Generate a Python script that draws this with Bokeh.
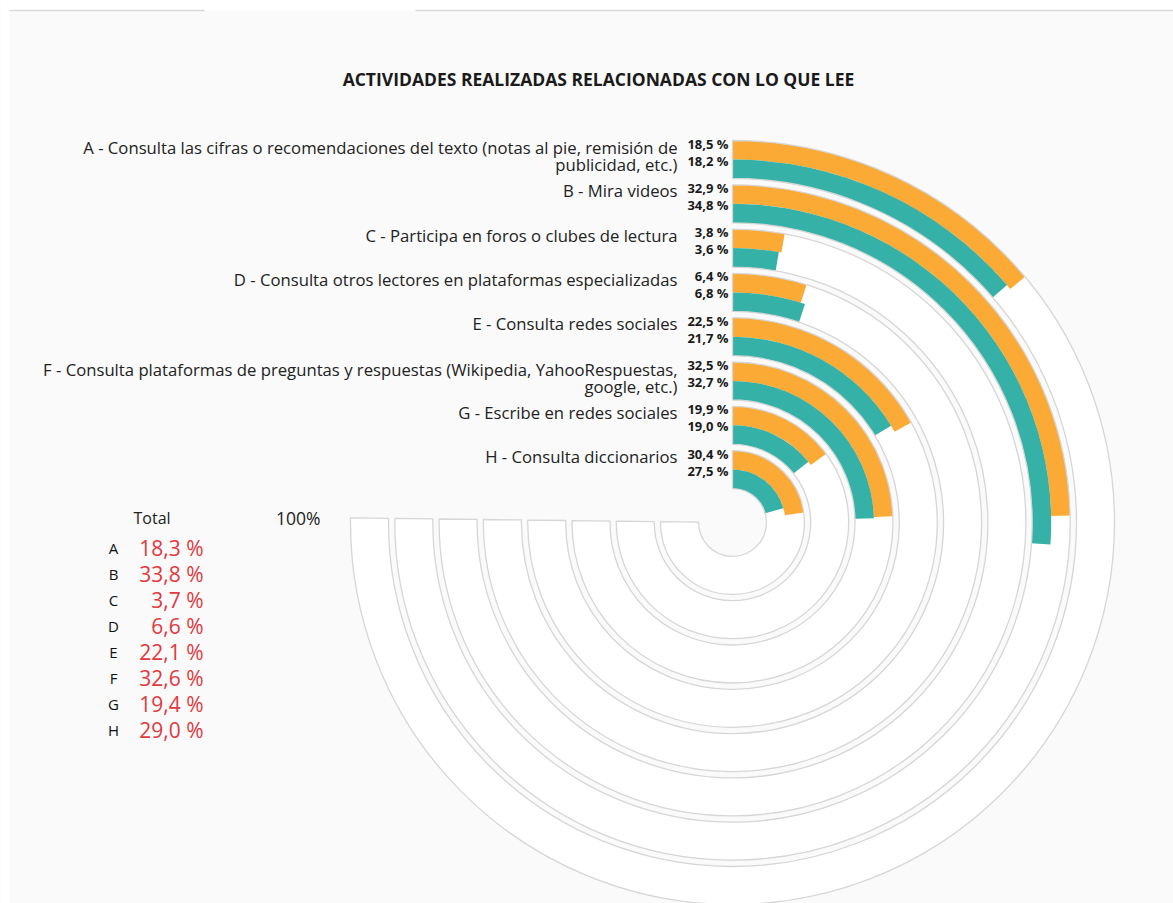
import numpy as np
from bokeh.plotting import figure
from bokeh.models import Range1d
from bokeh.core.properties import value
from bokeh.embed import file_html
from bokeh.resources import INLINE

W, H = 1173, 903

# ---------------- data ----------------
letras = ["A", "B", "C", "D", "E", "F", "G", "H"]
etiquetas = [
    ["A - Consulta las cifras o recomendaciones del texto (notas al pie, remisión de", "publicidad, etc.)"],
    ["B - Mira videos"],
    ["C - Participa en foros o clubes de lectura"],
    ["D - Consulta otros lectores en plataformas especializadas"],
    ["E - Consulta redes sociales"],
    ["F - Consulta plataformas de preguntas y respuestas (Wikipedia, YahooRespuestas,", "google, etc.)"],
    ["G - Escribe en redes sociales"],
    ["H - Consulta diccionarios"],
]
serie_naranja = [18.5, 32.9, 3.8, 6.4, 22.5, 32.5, 19.9, 30.4]
serie_verde = [18.2, 34.8, 3.6, 6.8, 21.7, 32.7, 19.0, 27.5]
total = [18.3, 33.8, 3.7, 6.6, 22.1, 32.6, 19.4, 29.0]
titulo = "ACTIVIDADES REALIZADAS RELACIONADAS CON LO QUE LEE"

NARANJA = "#FBAA36"
VERDE = "#35B1A7"
FONT = value("Open Sans")


def Y(img_y):
    return H - img_y


def fmt(v):
    return f"{v:.1f}".replace(".", ",") + " %"


p = figure(width=W, height=H, output_backend="svg", toolbar_location=None,
           x_range=Range1d(0, W), y_range=Range1d(0, H),
           background_fill_color="#fafafa", border_fill_color="#fafafa",
           min_border=0, outline_line_color=None)
p.axis.visible = False
p.grid.visible = False

# top strip
p.quad(left=0, right=W, bottom=Y(10), top=H, fill_color="white", line_color=None)
p.quad(left=0, right=9, bottom=0, top=H, fill_color="white", line_color=None)
p.segment(x0=[9, 415], y0=[Y(10), Y(10)], x1=[204, W], y1=[Y(10), Y(10)],
          line_color="#d9d9d9", line_width=1.5)

# radial geometry
cx, cy = 732, Y(522)
R0, step, tw = 382.0, 44.3, 38.0
n = len(letras)
outer = np.array([R0 - step * i for i in range(n)])
mid = outer - tw / 2
inner = outer - tw
start = np.pi / 2
track_end = np.pi / 2 - 1.5 * np.pi - 0.012

# track fills
p.annular_wedge(x=[cx] * n, y=[cy] * n, inner_radius=inner, outer_radius=outer,
                start_angle=start, end_angle=track_end, direction="clock",
                fill_color="white", line_color=None)

# bars
end_o = [start - v / 100 * 1.5 * np.pi for v in serie_naranja]
end_v = [start - v / 100 * 1.5 * np.pi for v in serie_verde]
p.annular_wedge(x=[cx] * n, y=[cy] * n, inner_radius=mid, outer_radius=outer,
                start_angle=start, end_angle=end_o, direction="clock",
                fill_color=NARANJA, line_color=None)
p.annular_wedge(x=[cx] * n, y=[cy] * n, inner_radius=inner, outer_radius=mid,
                start_angle=start, end_angle=end_v, direction="clock",
                fill_color=VERDE, line_color=None)

# track outlines
p.annular_wedge(x=[cx] * n, y=[cy] * n, inner_radius=inner, outer_radius=outer,
                start_angle=start, end_angle=track_end, direction="clock",
                fill_color=None, line_color="#d6d6d6", line_width=1.3)

# title
p.text(x=[598], y=[Y(78)], text=[titulo], text_font=FONT, text_font_size="17.5px",
       text_font_style="bold", text_align="center", text_baseline="middle",
       text_color="#1a1a1a")

# category labels
lx, ly, lt = [], [], []
for i, lines in enumerate(etiquetas):
    top = cy + outer[i]
    if len(lines) == 1:
        lx.append(677); ly.append(top - 6); lt.append(lines[0])
    else:
        lx += [677, 677]; ly += [top - 7, top - 24]; lt += lines
p.text(x=lx, y=ly, text=lt, text_font=FONT, text_font_size="16.7px",
       text_align="right", text_baseline="middle", text_color="#222222")

# value labels
vx, vy, vt = [], [], []
for i in range(n):
    top = cy + outer[i]
    vx += [728, 728]
    vy += [top - 3, top - 20]
    vt += [fmt(serie_naranja[i]), fmt(serie_verde[i])]
p.text(x=vx, y=vy, text=vt, text_font=FONT, text_font_size="13px",
       text_font_style="bold", text_align="right", text_baseline="middle",
       text_color="#1a1a1a")

# left table
p.text(x=[133], y=[Y(517)], text=["Total"], text_font=FONT, text_font_size="16px",
       text_align="left", text_baseline="middle", text_color="#222222")
p.text(x=[320], y=[Y(517)], text=["100%"], text_font=FONT, text_font_size="17.5px",
       text_align="right", text_baseline="middle", text_color="#222222")
ty = [Y(547 + 26 * i) for i in range(n)]
p.text(x=[113] * n, y=ty, text=letras, text_font=FONT, text_font_size="15px",
       text_align="center", text_baseline="middle", text_color="#111111")
p.text(x=[203] * n, y=ty, text=[fmt(v) for v in total], text_font=FONT,
       text_font_size="21px", text_align="right", text_baseline="middle",
       text_color="#E0393E")

open("out.html", "w").write(file_html(p, INLINE))
